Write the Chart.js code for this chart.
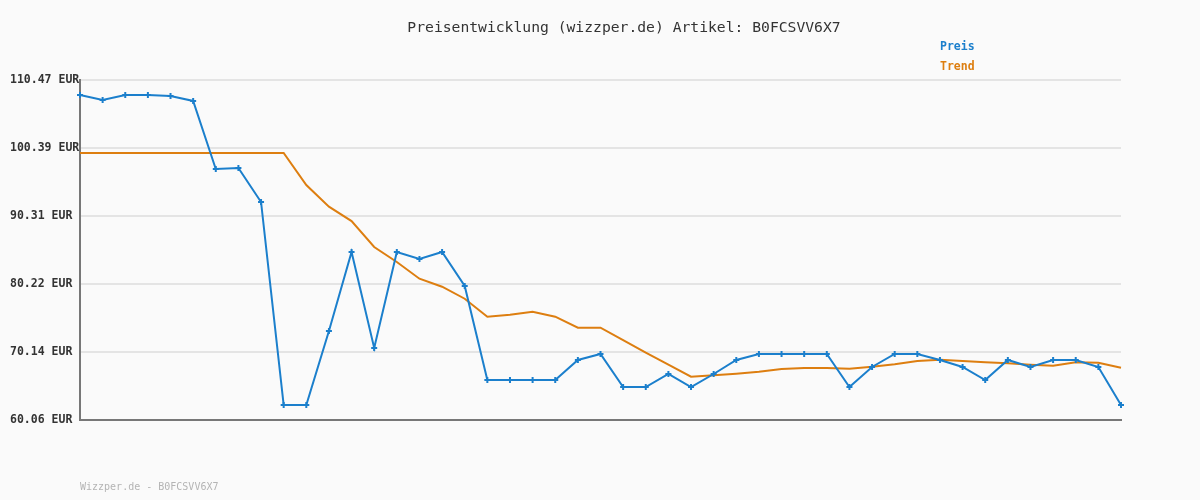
<!DOCTYPE html>
<html><head><meta charset="utf-8">
<script src="https://cdn.jsdelivr.net/npm/chart.js@4"></script>
<style>html,body{margin:0;padding:0;background:#fafafa;overflow:hidden}#wrap{width:1200px;height:500px}</style>
</head><body><div id="wrap"><canvas id="c" width="1200" height="500"></canvas></div>
<script>
const titleText = 'Preisentwicklung (wizzper.de) Artikel: B0FCSVV6X7';
const footerText = 'Wizzper.de - B0FCSVV6X7';
const seriesNames = ['Preis', 'Trend'];
const seriesColors = ['#1b7fcc', '#dd7e10'];
const yTicks = [60.06, 70.14, 80.22, 90.31, 100.39, 110.47];
const preis = [108.25,107.50,108.25,108.25,108.10,107.36,97.27,97.42,92.38,62.28,62.28,73.26,84.97,70.74,84.97,83.93,84.97,79.93,65.99,65.99,65.99,65.99,68.96,69.85,64.95,64.95,66.88,64.95,66.88,68.96,69.85,69.85,69.85,69.85,64.95,67.92,69.85,69.85,68.96,67.92,65.99,68.96,67.92,68.96,68.96,67.92,62.28];
const trend = [99.65,99.65,99.65,99.65,99.65,99.65,99.65,99.65,99.65,99.65,94.90,91.69,89.56,85.71,83.49,81.01,79.82,78.04,75.38,75.67,76.12,75.38,73.75,73.75,71.92,70.04,68.26,66.48,66.69,66.93,67.22,67.62,67.77,67.77,67.67,67.96,68.32,68.81,69.00,68.81,68.62,68.47,68.26,68.11,68.62,68.56,67.81];
const categories = preis.map((_, i) => String(i + 1));

const MONO = '"DejaVu Sans Mono", "Liberation Mono", monospace';

const textPlugin = {
  id: 'texts',
  afterDraw(chart) {
    const ctx = chart.ctx;
    ctx.save();
    ctx.textBaseline = 'middle';
    ctx.font = '14.7px ' + MONO;
    ctx.fillStyle = '#333333';
    ctx.textAlign = 'center';
    ctx.fillText(titleText, 624, 28);
    ctx.textAlign = 'left';
    ctx.font = 'bold 11.5px ' + MONO;
    seriesNames.forEach((n, i) => {
      ctx.fillStyle = seriesColors[i];
      ctx.fillText(n, 940, 47 + i * 20);
    });
    ctx.font = '10px ' + MONO;
    ctx.fillStyle = '#b4b4b4';
    ctx.fillText(footerText, 80, 487);
    ctx.restore();
  }
};

new Chart(document.getElementById('c'), {
  type: 'line',
  data: {
    labels: categories,
    datasets: [
      {
        label: seriesNames[0], data: preis, borderColor: seriesColors[0], backgroundColor: seriesColors[0],
        borderWidth: 2, pointStyle: 'cross', pointRadius: 3, pointBorderWidth: 2, tension: 0, clip: false, order: 0
      },
      {
        label: seriesNames[1], data: trend, borderColor: seriesColors[1], backgroundColor: seriesColors[1],
        borderWidth: 2, pointRadius: 0, tension: 0, clip: false, order: 1
      }
    ]
  },
  options: {
    responsive: false, animation: false, devicePixelRatio: 1,
    layout: { padding: { left: 10, right: 79, top: 80, bottom: 80 } },
    plugins: { legend: { display: false }, title: { display: false }, tooltip: { enabled: false } },
    scales: {
      x: {
        offset: false,
        grid: { display: false },
        ticks: { display: false },
        border: { display: true, color: '#777777', width: 2 },
        afterFit(s) { s.height = 0; }
      },
      y: {
        min: 60.06, max: 110.47,
        afterBuildTicks(s) { s.ticks = yTicks.map(v => ({ value: v })); },
        afterFit(s) { s.width = 70; },
        grid: { color: '#e4e4e4', lineWidth: 2, drawTicks: false, tickLength: 0 },
        border: { display: true, color: '#777777', width: 2 },
        ticks: {
          crossAlign: 'far', padding: 0, color: '#333333',
          font: { family: MONO, size: 11.5, weight: 'bold' },
          callback: v => Number(v).toFixed(2) + ' EUR'
        }
      }
    }
  },
  plugins: [textPlugin]
});
</script></body></html>
